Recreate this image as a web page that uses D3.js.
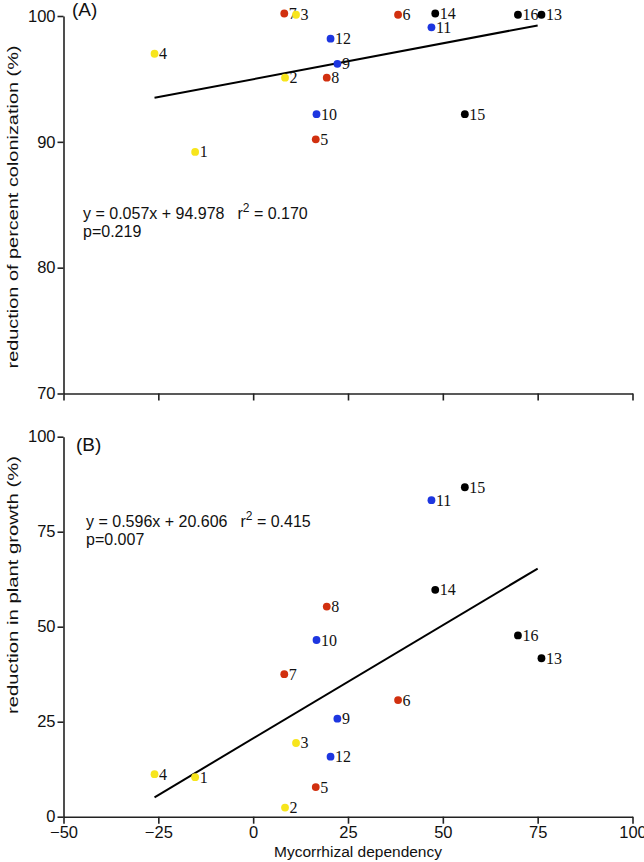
<!DOCTYPE html>
<html>
<head>
<meta charset="utf-8">
<script src="https://cdn.jsdelivr.net/npm/d3@7"></script>
<style>
  html, body { margin: 0; padding: 0; background: #fff; }
  svg { display: block; }
</style>
</head>
<body>
<svg id="chart" width="644" height="862"></svg>
<script>
// ---- Data ----
const labels = ["1","2","3","4","5","6","7","8","9","10","11","12","13","14","15","16"];
const groupOf = [0,0,0,0,1,1,1,1,2,2,2,2,3,3,3,3];
const groupColors = ["#f7e51c", "#d1300f", "#1d36e0", "#000000"];
// Mycorrhizal dependency (x)
const dependency = [-15.3, 8.4, 11.3, -26.0, 16.5, 38.2, 8.2, 19.4, 22.2, 16.7, 47.0, 20.4, 76.0, 48.0, 55.8, 69.8];
// Panel A: reduction of percent colonization (%)
const colonizationReduction = [89.2, 95.1, 100.1, 97.0, 90.2, 100.1, 100.2, 95.1, 96.2, 92.2, 99.1, 98.2, 100.1, 100.2, 92.2, 100.1];
// Panel B: reduction in plant growth (%)
const growthReduction = [10.4, 2.4, 19.4, 11.2, 7.8, 30.7, 37.5, 55.3, 25.8, 46.5, 83.3, 15.8, 41.7, 59.7, 86.7, 47.7];
// Regression fits
const fitA = [0.057, 94.978];
const fitB = [0.596, 20.606];
const fitRange = [-26, 75];
const xTicks = [-50, -25, 0, 25, 50, 75, 100];
const yTicksA = [70, 80, 90, 100];
const yTicksB = [0, 25, 50, 75, 100];

// ---- Drawing ----
const svg = d3.select("#chart");
const sans = "'Liberation Sans', Arial, sans-serif";
const serif = "'Liberation Serif', 'Times New Roman', serif";

const x = d3.scaleLinear().domain([-50, 100]).range([63.5, 632.5]);
const yA = d3.scaleLinear().domain([70, 100]).range([393.5, 16]);
const yB = d3.scaleLinear().domain([0, 100]).range([816.7, 436.7]);

function styleAxis(g) {
  g.selectAll("path, line").attr("stroke", "#222").attr("stroke-width", 1.6);
  g.selectAll("text").attr("font-family", sans).attr("font-size", 16.5).attr("fill", "#111");
}

function panel(y, yVals, yTicks, fit, xLabels, opts) {
  const xa = svg.append("g").attr("transform", `translate(0,${y.range()[0]})`)
    .call(d3.axisBottom(x).tickValues(xTicks).tickSize(7).tickSizeOuter(0).tickPadding(3)
      .tickFormat(xLabels ? d3.format("d") : ""));
  styleAxis(xa);
  const ya = svg.append("g").attr("transform", `translate(${x.range()[0]},0)`)
    .call(d3.axisLeft(y).tickValues(yTicks).tickSize(6).tickSizeOuter(0).tickPadding(2));
  styleAxis(ya);

  svg.append("line")
    .attr("x1", x(fitRange[0])).attr("y1", y(fit[0] * fitRange[0] + fit[1]))
    .attr("x2", x(fitRange[1])).attr("y2", y(fit[0] * fitRange[1] + fit[1]))
    .attr("stroke", "#000").attr("stroke-width", 2);

  const pts = labels.map((l, i) => ({ l, x: dependency[i], y: yVals[i], c: groupColors[groupOf[i]] }));
  svg.append("g").selectAll("text").data(pts).join("text")
    .attr("x", d => x(d.x) + 4.5).attr("y", d => y(d.y) + 5.5)
    .attr("font-family", serif).attr("font-size", 16).attr("fill", "#111")
    .text(d => d.l);
  svg.append("g").selectAll("circle").data(pts).join("circle")
    .attr("cx", d => x(d.x)).attr("cy", d => y(d.y)).attr("r", 3.9)
    .attr("fill", d => d.c);

  svg.append("text").attr("x", opts.letterX).attr("y", opts.letterY)
    .attr("font-family", sans).attr("font-size", 19).attr("fill", "#111").text(opts.letter);

  const eq = svg.append("text").attr("x", opts.eqX).attr("y", opts.eqY)
    .attr("font-family", sans).attr("font-size", 16).attr("fill", "#111");
  eq.append("tspan").text(opts.eq);
  eq.append("tspan").attr("dx", 13).text("r");
  eq.append("tspan").attr("dy", -7).attr("font-size", 12).text("2");
  eq.append("tspan").attr("dy", 7).text(" = " + opts.r2);
  svg.append("text").attr("x", opts.eqX).attr("y", opts.eqY + 17.5)
    .attr("font-family", sans).attr("font-size", 16).attr("fill", "#111").text(opts.p);

  svg.append("text")
    .attr("transform", `translate(18,${opts.titleY}) rotate(-90)`)
    .attr("text-anchor", "middle")
    .attr("font-family", sans).attr("font-size", 15).attr("fill", "#111")
    .attr("textLength", opts.titleLen).attr("lengthAdjust", "spacingAndGlyphs")
    .text(opts.title);
}

panel(yA, colonizationReduction, yTicksA, fitA, false, {
  letter: "(A)", letterX: 72, letterY: 16,
  eq: "y = 0.057x + 94.978", r2: "0.170", p: "p=0.219", eqX: 83, eqY: 219,
  title: "reduction of percent colonization (%)", titleY: 207, titleLen: 323
});
panel(yB, growthReduction, yTicksB, fitB, true, {
  letter: "(B)", letterX: 76, letterY: 451,
  eq: "y = 0.596x + 20.606", r2: "0.415", p: "p=0.007", eqX: 86, eqY: 527,
  title: "reduction in plant growth (%)", titleY: 585, titleLen: 258
});

svg.append("text").attr("x", 358).attr("y", 857).attr("text-anchor", "middle")
  .attr("font-family", sans).attr("font-size", 15.5).attr("fill", "#111")
  .text("Mycorrhizal dependency");
</script>
</body>
</html>
